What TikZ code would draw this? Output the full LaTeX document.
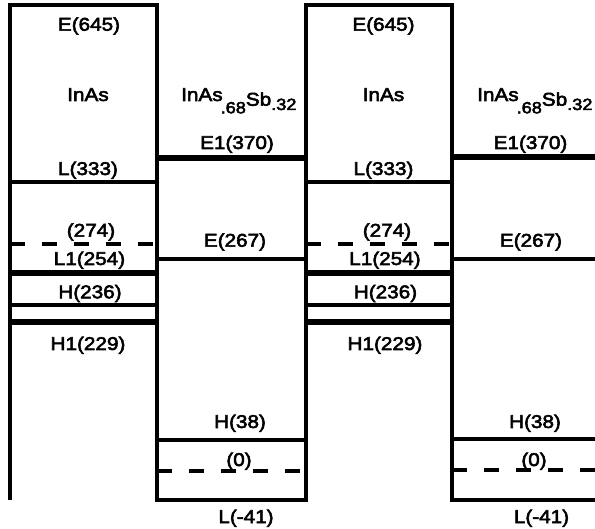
\documentclass[tikz,border=0pt]{standalone}
\usepackage{fontspec}
\setmainfont{Liberation Sans}[FakeStretch=1.12,FakeBold=3]
\begin{document}
\begin{tikzpicture}[x=1pt,y=-1pt,
  box/.style={line width=4pt, line join=miter},
  lvl/.style={line width=3.5pt},
  thicklvl/.style={line width=6.5pt},
  dlvl/.style={line width=4pt, dash pattern=on 15pt off 17pt},
  lab/.style={font=\fontsize{18.5}{18.5}\selectfont, inner sep=0pt, anchor=base}]
\useasboundingbox (0,0) rectangle (595,529);
\newcommand{\subfs}{\fontsize{16.2}{16.2}\selectfont}
\newcommand{\alloy}{InAs\kern-2pt\raisebox{-12.3pt}{\subfs .68}\raisebox{-4.7pt}{Sb}\raisebox{-9pt}{\subfs .32}}
% outline
\draw[box] (10,500) -- (10,5) -- (157,5) -- (157,500) -- (306,500) -- (306,5) -- (452,5) -- (452,500) -- (595,500);
\foreach \dx in {0,296}{
  \begin{scope}[xshift=\dx]
  % InAs levels
  \draw[lvl] (10,182) -- (157,182);
  \draw[dlvl] (10,244) -- (157,244);
  \draw[thicklvl] (10,273) -- (157,273);
  \draw[lvl] (10,305) -- (157,305);
  \draw[thicklvl] (10,322) -- (157,322);
  \end{scope}
}
% InAsSb levels
\draw[thicklvl] (157,158) -- (306,158);
\draw[lvl] (157,259) -- (306,259);
\draw[lvl] (157,440) -- (306,440);
\draw[dlvl] (157,471) -- (306,471);
\draw[thicklvl] (452,157) -- (595,157);
\draw[lvl] (452,259) -- (595,259);
\draw[lvl] (452,439) -- (595,439);
\draw[dlvl] (452,470) -- (595,470);
% labels set 1
\node[lab] (e645a) at (89,30.7) {E(645)};
\node[lab] (inasa) at (88,101) {InAs};
\node[lab, anchor=base west] (alla) at (181,101) {\alloy};
\node[lab] (e1a) at (237,149) {E1(370)};
\node[lab] (l333a) at (88,175) {L(333)};
\node[lab] (d274a) at (91,236.7) {(274)};
\node[lab] (l1a) at (89.5,265) {L1(254)};
\node[lab] (e267a) at (235,246.7) {E(267)};
\node[lab] (h236a) at (90,298.3) {H(236)};
\node[lab] (h1a) at (88,350) {H1(229)};
\node[lab] (h38a) at (240,428) {H(38)};
\node[lab] (zeroa) at (239,466) {(0)};
\node[lab] (l41a) at (246,523) {L(-41)};
% labels set 2
\node[lab] (e645b) at (383.5,30.7) {E(645)};
\node[lab] (inasb) at (383.5,101) {InAs};
\node[lab, anchor=base west] (allb) at (477,101) {\alloy};
\node[lab] (e1b) at (530.5,149) {E1(370)};
\node[lab] (l333b) at (383.5,175) {L(333)};
\node[lab] (d274b) at (387,236.7) {(274)};
\node[lab] (l1b) at (385,265) {L1(254)};
\node[lab] (e267b) at (531,246.7) {E(267)};
\node[lab] (h236b) at (385.5,298.3) {H(236)};
\node[lab] (h1b) at (385,350) {H1(229)};
\node[lab] (h38b) at (535,428) {H(38)};
\node[lab] (zerob) at (534,466) {(0)};
\node[lab] (l41b) at (541.5,523) {L(-41)};
\end{tikzpicture}
\end{document}
